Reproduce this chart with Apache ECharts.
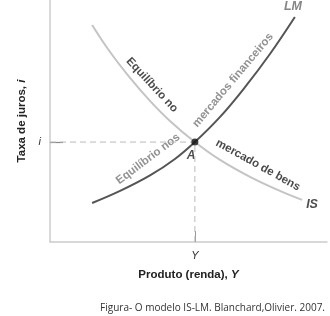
<!DOCTYPE html>
<html><head><meta charset="utf-8">
<script src="https://cdn.jsdelivr.net/npm/echarts@6/dist/echarts.min.js"></script>
<style>html,body{margin:0;padding:0;background:#fff}#c{width:330px;height:316px}</style>
</head><body><div id="c"></div>
<script>
// IS curve (income Y, interest i)
const isCurve = [[15.2,89.7],[21.7,78.5],[28.9,67.8],[36.1,58.3],[43.3,50.0],[52.3,41.3],[61.4,33.9],[72.2,26.9],[83.0,21.1],[91.0,17.4]];
// LM curve
const lmCurve = [[15.2,16.1],[25.3,21.1],[36.1,27.5],[45.1,34.3],[52.3,41.3],[61.4,51.7],[70.4,64.0],[79.4,77.7],[88.4,93.0]];
// equilibrium A
const eqY = 52.3;
const eqI = 41.3;
const xTickLabels = ['Y'];
const yTickLabels = ['i'];
const xAxisTitle = 'Produto (renda), ';
const yAxisTitle = 'Taxa de juros, ';
const caption = 'Figura- O modelo IS-LM. Blanchard,Olivier. 2007.';
// annotations: [x, y, text]
const annDark = [[36.8,64.9,'Equilíbrio no'],[75.1,31.8,'mercado de bens']];
const annGrey = [[66.1,66.9,'mercados financeiros'],[35.4,34.3,'Equilíbrio nos']];
const annAngleDark = [-47,-29];
const annAngleGrey = [50,37];
const curveNames = [[87.7,97.1,'LM'],[94.6,15.3,'IS']];
const pointName = [[50.9,35.5,'A']];

const chart = echarts.init(document.getElementById('c'));
const F = '"Liberation Sans", Arial, sans-serif';
const nameRich = {
  b:{fontFamily:F,fontSize:11.5,fontWeight:'bold',color:'#222'},
  i:{fontFamily:F,fontSize:11.5,fontWeight:'bold',fontStyle:'italic',color:'#222'}
};
chart.setOption({
  animation:false,
  grid:{left:50,right:3,top:0,bottom:74},
  xAxis:{type:'value',min:0,max:100,splitLine:{show:false},
    axisLine:{lineStyle:{color:'#ccc',width:1.5}},
    axisTick:{show:true,inside:true,length:11,customValues:[eqY],lineStyle:{color:'#999',width:1}},
    axisLabel:{customValues:[eqY],formatter:()=>xTickLabels[0],fontStyle:'italic',fontFamily:F,fontSize:11,color:'#333',margin:8},
    name:'{b|'+xAxisTitle+'}{i|Y}',nameLocation:'middle',nameGap:27,
    nameTextStyle:{rich:nameRich}
  },
  yAxis:{type:'value',min:0,max:100,splitLine:{show:false},
    axisLine:{lineStyle:{color:'#ccc',width:1.5}},
    axisTick:{show:true,inside:true,length:13,customValues:[eqI],lineStyle:{color:'#888',width:1.2}},
    axisLabel:{customValues:[eqI],formatter:()=>yTickLabels[0],fontStyle:'italic',fontFamily:F,fontSize:11,color:'#333',margin:9},
    name:'{b|'+yAxisTitle+'}{i|i}',nameLocation:'middle',nameGap:22,nameRotate:90,
    nameTextStyle:{rich:nameRich}
  },
  series:[
    {type:'line',data:[[0,eqI],[eqY,eqI]],symbol:'none',lineStyle:{color:'#bbb',width:1,type:[6,4]},silent:true},
    {type:'line',data:[[eqY,0],[eqY,eqI]],symbol:'none',lineStyle:{color:'#bbb',width:1,type:[6,4]},silent:true},
    {type:'line',data:isCurve,smooth:0.4,symbol:'none',lineStyle:{color:'#c4c4c4',width:2}},
    {type:'line',data:lmCurve,smooth:0.4,symbol:'none',lineStyle:{color:'#555',width:2}},
    {type:'scatter',data:[[eqY,eqI]],symbol:'circle',symbolSize:7,itemStyle:{color:'#111'},z:5},
    {type:'scatter',symbolSize:0,data:annDark.map((d,k)=>({value:d,label:{rotate:annAngleDark[k]}})),
      label:{show:true,position:'inside',formatter:p=>p.value[2],fontFamily:F,fontSize:11.5,color:'#1a1a1a',fontWeight:'bold'}},
    {type:'scatter',symbolSize:0,data:annGrey.map((d,k)=>({value:d,label:{rotate:annAngleGrey[k]}})),
      label:{show:true,position:'inside',formatter:p=>p.value[2],fontFamily:F,fontSize:11.5,color:'#777',fontWeight:'bold'}},
    {type:'scatter',symbolSize:0,data:curveNames.map((d,k)=>({value:d,label:{color:k?'#222':'#666'}})),
      label:{show:true,position:'inside',formatter:p=>p.value[2],fontFamily:F,fontSize:12.5,fontWeight:'bold',fontStyle:'italic'}},
    {type:'scatter',symbolSize:0,data:pointName,
      label:{show:true,position:'inside',formatter:p=>p.value[2],fontFamily:F,fontSize:12,fontWeight:'bold',fontStyle:'italic',color:'#222'}}
  ],
  graphic:[{type:'text',right:5,top:303,style:{text:caption,font:'10px "Open Sans", sans-serif',fill:'#333'}}]
});
</script></body></html>
